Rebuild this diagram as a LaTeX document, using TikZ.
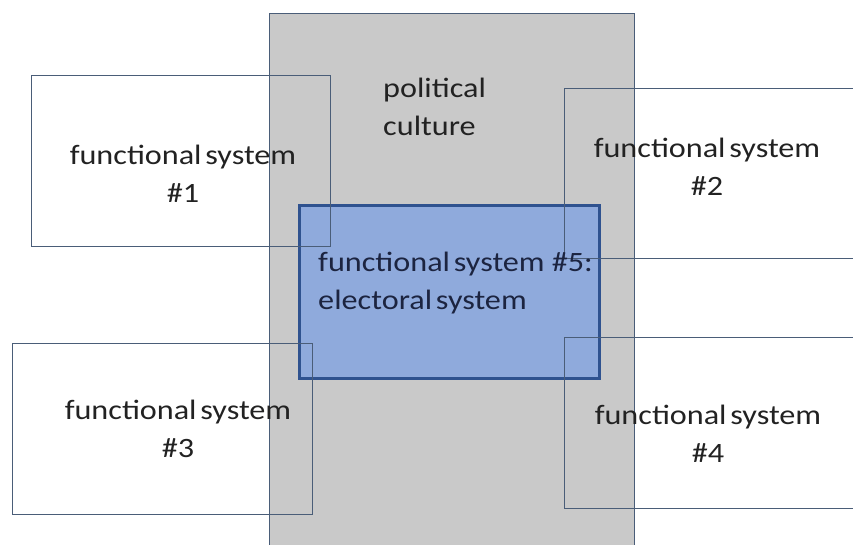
\documentclass[tikz,border=0pt]{standalone}
\usepackage{fontspec}
\setmainfont{Carlito}
\definecolor{pcgray}{HTML}{C9C9C9}
\definecolor{bluefill}{HTML}{8FAADC}
\definecolor{blueline}{HTML}{2F528F}
\definecolor{boxline}{HTML}{4A5D78}
\definecolor{txt}{HTML}{222222}
\definecolor{bluetxt}{HTML}{1C2440}
\newcommand\lblfont{\fontsize{28}{38.5}\selectfont\spaceskip=0.12em\relax}
\begin{document}
\begin{tikzpicture}[x=1pt,y=-1pt,
  fsbox/.style={draw=boxline, line width=1.2pt, inner sep=0pt, anchor=north west},
  lbl/.style={font=\lblfont, text=txt, align=center, inner sep=0pt, xscale=1.15}]
\useasboundingbox (0,0) rectangle (853,544);
\clip (0,0) rectangle (853,544);
\node[draw=boxline, line width=1pt, fill=pcgray, minimum width=365pt, minimum height=560pt, inner sep=0pt, anchor=north west] (pc) at (269,13) {};
\node[draw=blueline, line width=3pt, fill=bluefill, minimum width=300pt, minimum height=173pt, inner sep=0pt, anchor=north west] (es) at (298,204) {};
\node[fsbox, minimum width=299pt, minimum height=171pt] (b1) at (31,75) {};
\node[fsbox, minimum width=330pt, minimum height=170pt] (b2) at (564,88) {};
\node[fsbox, minimum width=300pt, minimum height=171pt] (b3) at (12,343) {};
\node[fsbox, minimum width=330pt, minimum height=171pt] (b4) at (564,337) {};
\node[lbl, align=left, anchor=west] (tpc) at (383,107) {political\\culture};
\node[lbl, align=left, anchor=west, text=bluetxt] (tes) at (318,283) {functional system\hspace{0.22em}\#5:\\electoral system};
\node[lbl] (t1) at (183,174) {functional system\\\#1};
\node[lbl] (t2) at (707,167) {functional system\\\#2};
\node[lbl] (t3) at (178,429) {functional system\\\#3};
\node[lbl] (t4) at (708,434) {functional system\\\#4};
\end{tikzpicture}
\end{document}
